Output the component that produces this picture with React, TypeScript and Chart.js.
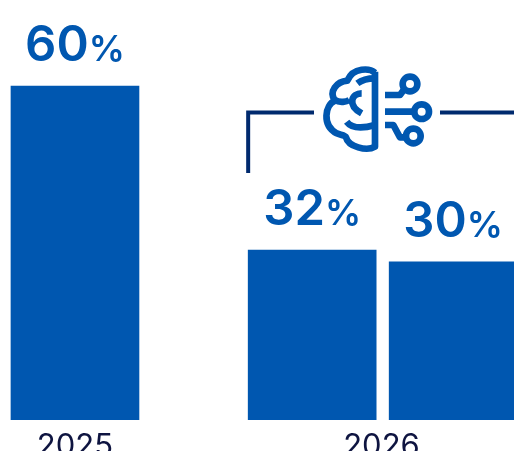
import { useEffect, useRef } from "react";
import { Chart, registerables } from "chart.js";

Chart.register(...registerables);

const yearLabels = ["2025", "2026"];
const yearPositions = [0, 6.5];
const barPositions = [0, 5.03, 8.02];
const shares = [60, 32, 30];

const BLUE = "#0057B0";
const NAVY = "#002A6E";
const YEAR_INK = "#0E1440";
const FONT = "Inter, sans-serif";

// Brain and circuit pictogram, stroked in a 3x local grid.
const brainOutline =
  "M405,65 L405,290 C380,305 325,290 318,262 C315,255 300,255 290,250 C245,225 255,165 285,152 C265,125 290,95 322,92 C340,50 390,55 405,68";
const brainFolds =
  "M352,100 C365,90 385,85 405,85 M285,150 C300,160 320,155 328,150 M365,130 C335,130 320,165 365,190 M320,215 C335,235 370,235 405,225";
const circuitLines =
  "M435,135 L480,135 L497,112 M435,185 L525,185 M435,225 L460,225 L480,262 L498,262";
const circuitNodes: [number, number][] = [
  [510, 102],
  [545, 185],
  [520, 258],
];

const valueLabels = {
  id: "valueLabels",
  afterDatasetsDraw(chart: Chart) {
    const { ctx } = chart;
    chart.getDatasetMeta(0).data.forEach((bar: any, i: number) => {
      const digits = String(shares[i]);
      ctx.save();
      ctx.fillStyle = BLUE;
      ctx.textBaseline = "alphabetic";
      ctx.font = `600 49px ${FONT}`;
      const digitsWidth = ctx.measureText(digits).width;
      ctx.font = `600 36px ${FONT}`;
      const percentWidth = ctx.measureText("%").width;
      const left = bar.x - (digitsWidth + percentWidth) / 2;
      const baseline = bar.y - 25;
      ctx.textAlign = "left";
      ctx.font = `600 49px ${FONT}`;
      ctx.fillText(digits, left, baseline);
      ctx.font = `600 36px ${FONT}`;
      ctx.fillText("%", left + digitsWidth, baseline);
      ctx.restore();
    });
  },
};

const bracketAndIcon = {
  id: "bracketAndIcon",
  afterDraw(chart: Chart) {
    const { ctx, chartArea } = chart;
    const firstBar: any = chart.getDatasetMeta(0).data[1];
    const left = firstBar.x - firstBar.width / 2;

    ctx.save();
    ctx.strokeStyle = NAVY;
    ctx.lineWidth = 4;
    ctx.beginPath();
    ctx.moveTo(left, 173);
    ctx.lineTo(left, 112.5);
    ctx.lineTo(314, 112.5);
    ctx.moveTo(440, 112.5);
    ctx.lineTo(chartArea.right, 112.5);
    ctx.stroke();

    ctx.translate(240, 50);
    ctx.scale(1 / 3, 1 / 3);
    ctx.strokeStyle = BLUE;
    ctx.lineWidth = 20;
    ctx.lineJoin = "round";
    ctx.stroke(new Path2D(brainOutline));
    ctx.stroke(new Path2D(brainFolds));
    ctx.stroke(new Path2D(circuitLines));
    circuitNodes.forEach(([cx, cy]) => {
      ctx.beginPath();
      ctx.arc(cx, cy, 22, 0, Math.PI * 2);
      ctx.stroke();
    });
    ctx.restore();
  },
};

export default function App() {
  const canvasRef = useRef<HTMLCanvasElement>(null);

  useEffect(() => {
    const chart = new Chart(canvasRef.current!, {
      type: "bar",
      data: {
        datasets: [
          {
            data: barPositions.map((x, i) => ({ x, y: shares[i] })),
            backgroundColor: BLUE,
            barThickness: 128,
          },
        ],
      },
      options: {
        responsive: false,
        animation: false,
        layout: { padding: 0 },
        plugins: { legend: { display: false }, tooltip: { enabled: false } },
        scales: {
          x: {
            type: "linear",
            offset: false,
            min: -1.59,
            max: 9.31,
            grid: { display: false },
            border: { display: false },
            afterBuildTicks(axis: any) {
              axis.ticks = yearPositions.map((value) => ({ value }));
            },
            afterFit(axis: any) {
              axis.height = 31;
            },
            ticks: {
              autoSkip: false,
              maxRotation: 0,
              padding: 0,
              color: YEAR_INK,
              font: { family: "Inter", size: 31, weight: "400" },
              callback: (value: any) => yearLabels[yearPositions.indexOf(Number(value))],
            },
          },
          y: { display: false, min: 3, max: 74.67 },
        },
      },
      plugins: [valueLabels, bracketAndIcon],
    } as any);
    return () => chart.destroy();
  }, []);

  return (
    <div style={{ position: "absolute", left: 0, top: 0, width: 514, height: 451, overflow: "hidden", background: "#fff" }}>
      <canvas ref={canvasRef} width={514} height={451} style={{ display: "block" }} />
    </div>
  );
}
